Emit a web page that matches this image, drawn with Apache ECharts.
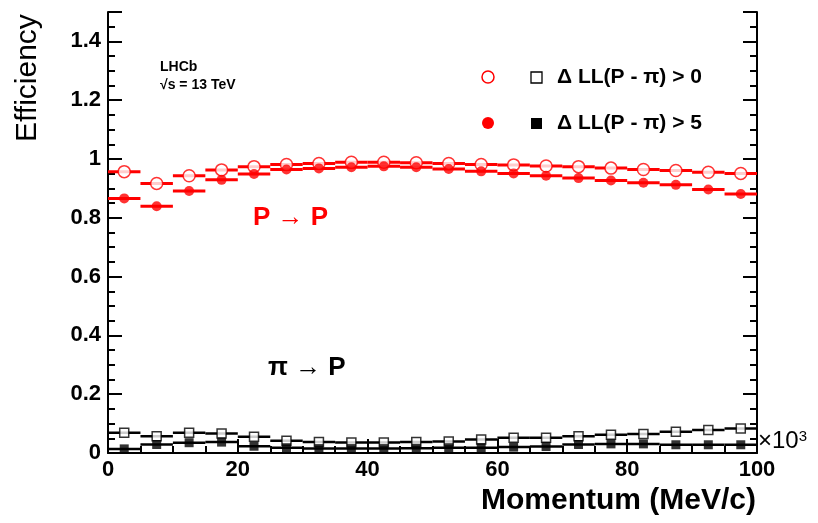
<!DOCTYPE html>
<html><head><meta charset="utf-8">
<script src="https://cdn.jsdelivr.net/npm/echarts@6/dist/echarts.min.js"></script>
<style>html,body{margin:0;padding:0;background:#fff}#c{width:818px;height:523px}</style>
</head><body><div id="c"></div>
<script>
var binCenters = [2.5,7.5,12.5,17.5,22.5,27.5,32.5,37.5,42.5,47.5,52.5,57.5,62.5,67.5,72.5,77.5,82.5,87.5,92.5,97.5];
var binHalfWidth = 2.5;
var pToP_LL0 = [0.957,0.917,0.943,0.963,0.974,0.981,0.985,0.989,0.989,0.987,0.985,0.981,0.980,0.976,0.974,0.969,0.964,0.961,0.955,0.951];
var pToP_LL5 = [0.866,0.839,0.891,0.929,0.949,0.964,0.968,0.972,0.975,0.972,0.966,0.958,0.951,0.943,0.935,0.927,0.919,0.912,0.896,0.881];
var piToP_LL0 = [0.069,0.057,0.069,0.066,0.055,0.042,0.037,0.036,0.036,0.037,0.039,0.046,0.052,0.052,0.057,0.062,0.065,0.072,0.078,0.083];
var piToP_LL5 = [0.014,0.029,0.035,0.037,0.023,0.018,0.015,0.015,0.015,0.016,0.018,0.018,0.020,0.022,0.029,0.031,0.031,0.028,0.028,0.028];
var xTicks = [0,20,40,60,80,100];
var yTicks = [0,0.2,0.4,0.6,0.8,1,1.2,1.4];

function pairs(vals){ return binCenters.map(function(x,i){ return [x, vals[i]]; }); }
function barSeries(vals, color, w){
  return {
    type:'custom', data: pairs(vals), z: 2, silent:true,
    renderItem: function(params, api){
      var x = api.value(0), y = api.value(1);
      var p1 = api.coord([x - binHalfWidth, y]);
      var p2 = api.coord([x + binHalfWidth, y]);
      return {type:'line', shape:{x1:p1[0],y1:p1[1],x2:p2[0],y2:p2[1]}, style:{stroke:color, lineWidth:w}};
    }
  };
}
var F = '"Liberation Sans", Arial, sans-serif';
var chart = echarts.init(document.getElementById('c'), null, {renderer:'canvas'});
var axisCommon = {
  axisLine:{show:true, lineStyle:{color:'#000', width:2}},
  axisTick:{show:true, inside:true, length:14, lineStyle:{color:'#000', width:2}},
  minorTick:{show:true, splitNumber:4, length:7, lineStyle:{color:'#000', width:2}},
  splitLine:{show:false}
};
chart.setOption({
  animation:false,
  backgroundColor:'#fff',
  grid:{left:108, right:61, top:12, bottom:70},
  xAxis:[Object.assign({type:'value', min:0, max:100, interval:20,
    axisLabel:{fontFamily:F, fontWeight:'bold', fontSize:22, color:'#000', margin:6}}, axisCommon)],
  yAxis:[
    Object.assign({type:'value', min:0, max:1.5, interval:0.2, position:'left',
      axisLabel:{fontFamily:F, fontWeight:'bold', fontSize:22, color:'#000', margin:7,
        formatter:function(v){ return yTicks.indexOf(+v.toFixed(2)) >= 0 ? String(+v.toFixed(1)) : ''; }}}, axisCommon),
    Object.assign({type:'value', min:0, max:1.5, interval:0.2, position:'right', axisLabel:{show:false}}, axisCommon)
  ],
  series:[
    barSeries(pToP_LL0, '#ff0000', 3),
    barSeries(pToP_LL5, '#ff0000', 3),
    barSeries(piToP_LL0, '#000', 2.5),
    barSeries(piToP_LL5, '#000', 2.5),
    {type:'scatter', data:pairs(pToP_LL0), symbol:'circle', symbolSize:12, z:5,
      itemStyle:{color:'#fff', borderColor:'#ff0000', borderWidth:1.5}},
    {type:'scatter', data:pairs(pToP_LL5), symbol:'circle', symbolSize:10, z:5,
      itemStyle:{color:'#ff0000'}},
    {type:'scatter', data:pairs(piToP_LL0), symbol:'rect', symbolSize:9, z:5,
      itemStyle:{color:'#fff', borderColor:'#000', borderWidth:1.5}},
    {type:'scatter', data:pairs(piToP_LL5), symbol:'rect', symbolSize:9, z:5,
      itemStyle:{color:'#000'}}
  ],
  graphic:[
    {type:'text', x:28, y:142, rotation:Math.PI/2, style:{text:'Efficiency', font:'30px '+F, fill:'#000', textAlign:'left', textVerticalAlign:'middle'}},
    {type:'text', x:756, y:486, style:{text:'Momentum (MeV/c)', font:'bold 30px '+F, fill:'#000', textAlign:'right', textVerticalAlign:'top'}},
    {type:'text', x:758, y:429, style:{text:'×10{s|3}', rich:{s:{fontFamily:F, fontSize:15, verticalAlign:'top', padding:[0,0,8,0]}}, font:'24px '+F, fill:'#000', textVerticalAlign:'top'}},
    {type:'text', x:160, y:60, style:{text:'LHCb', font:'bold 14px '+F, fill:'#000'}},
    {type:'text', x:160, y:78, style:{text:'√s = 13 TeV', font:'bold 14px '+F, fill:'#000'}},
    {type:'circle', shape:{cx:488, cy:77, r:6}, style:{fill:'#fff', stroke:'#ff0000', lineWidth:1.5}},
    {type:'rect', shape:{x:531, y:72, width:11, height:11}, style:{fill:'#fff', stroke:'#000', lineWidth:1.3}},
    {type:'text', x:557, y:77, style:{text:'Δ LL(P - π) > 0', font:'bold 21px '+F, fill:'#000', textVerticalAlign:'middle'}},
    {type:'circle', shape:{cx:488, cy:123, r:6}, style:{fill:'#ff0000'}},
    {type:'rect', shape:{x:531, y:118, width:11, height:11}, style:{fill:'#000'}},
    {type:'text', x:557, y:123, style:{text:'Δ LL(P - π) > 5', font:'bold 21px '+F, fill:'#000', textVerticalAlign:'middle'}},
    {type:'text', x:253, y:218, style:{text:'P \u2192 P', font:'bold 26px '+F, fill:'#ff0000', textVerticalAlign:'middle'}},
    {type:'text', x:268, y:368, style:{text:'π \u2192 P', font:'bold 26px '+F, fill:'#000', textVerticalAlign:'middle'}}
  ]
});
</script></body></html>
